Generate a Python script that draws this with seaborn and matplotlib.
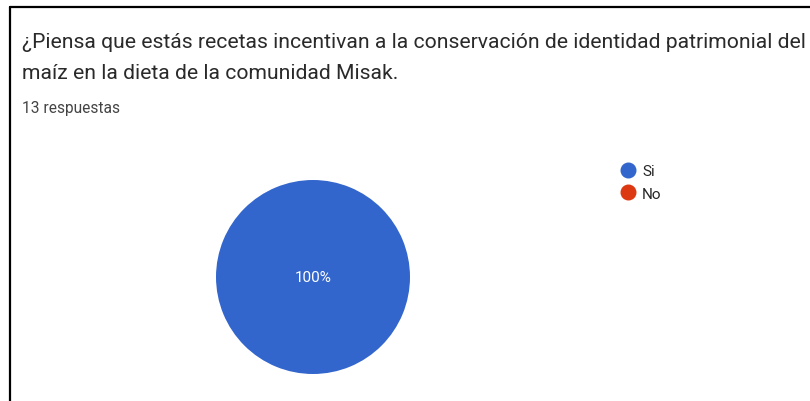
import matplotlib
matplotlib.use("Agg")
import matplotlib.pyplot as plt
import seaborn as sns
from matplotlib.lines import Line2D

# datos de la encuesta
categorias = ["Si", "No"]
respuestas = [13, 0]
colores = ["#3366CC", "#DC3912"]
titulo_1 = "¿Piensa que estás recetas incentivan a la conservación de identidad patrimonial del"
titulo_2 = "maíz en la dieta de la comunidad Misak."
subtitulo = "13 respuestas"

W, H = 810, 402

sns.set_theme(style="white")
plt.rcParams['font.family'] = ['Roboto', 'DejaVu Sans']

fig = plt.figure(figsize=(W / 100, H / 100), dpi=100)
fig.patch.set_facecolor("white")

def px(x, y):
    return x / W, 1 - y / H

# marco
fig.add_artist(Line2D([10 / W, 10 / W], [0, 1 - 8 / H], color="black", lw=1.6, transform=fig.transFigure))
fig.add_artist(Line2D([10 / W, 1], [1 - 8 / H, 1 - 8 / H], color="black", lw=1.6, transform=fig.transFigure))

fig.text(*px(22, 42), titulo_1, fontsize=15.2, color="#2a2a2a", va="center", ha="left")
fig.text(*px(22, 74), titulo_2, fontsize=15.2, color="#2a2a2a", va="center", ha="left")
fig.text(*px(22, 108), subtitulo, fontsize=11.2, color="#444444", va="center", ha="left")

cx, cy, r = 313, 278, 97
ax = fig.add_axes([(cx - r) / W, (H - cy - r) / H, 2 * r / W, 2 * r / H])
wedges, texts, autotexts = ax.pie(
    respuestas, colors=colores, startangle=90, counterclock=False,
    autopct=lambda p: f"{p:.0f}%" if p > 0 else "", pctdistance=0.0,
    wedgeprops=dict(linewidth=0),
    textprops=dict(color="white", fontsize=11),
)
ax.set_xlim(-1, 1)
ax.set_ylim(-1, 1)
ax.set_aspect("equal")
ax.axis("off")

handles = [Line2D([], [], marker="o", linestyle="", markersize=10.5,
                  markerfacecolor=c, markeredgecolor=c) for c in colores]
fig.legend(handles, categorias, loc="upper left", bbox_to_anchor=px(613, 159),
           frameon=False, fontsize=11, handletextpad=0.3, labelspacing=0.55,
           handlelength=1.2, borderaxespad=0)

fig.savefig("out.png", dpi=100, facecolor="white")
